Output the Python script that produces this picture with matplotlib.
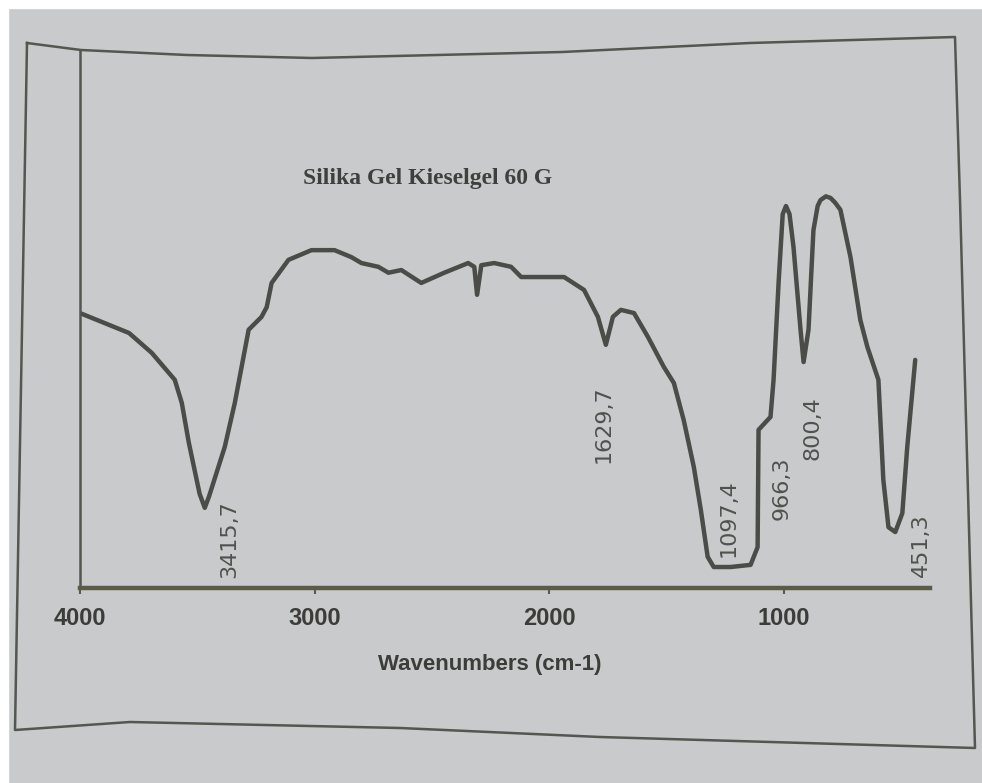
"""FTIR spectrum of silica gel (Kieselgel 60 G), redrawn from a photographed figure."""

import matplotlib

matplotlib.use('Agg')
import matplotlib.pyplot as plt
from matplotlib.lines import Line2D

# spectrum: wavenumber (cm-1) and transmittance (arbitrary %)
wavenumber = [
    4000, 3791, 3694, 3596, 3566, 3536, 3490, 3468, 3450, 3383, 3340, 3281,
    3226, 3204, 3183, 3111, 3013, 2915, 2843, 2800, 2728, 2685,
    2630, 2545, 2447, 2345, 2319, 2307, 2289, 2234, 2162, 2119,
    2021, 1936, 1851, 1792, 1758, 1728, 1694, 1638, 1579, 1511,
    1468, 1426, 1383, 1353, 1324, 1298, 1226, 1141, 1111, 1107,
    1056, 1043, 1021, 1004, 990, 975, 958, 928, 915, 894, 873,
    855, 843, 820, 800, 780, 758, 715, 673, 643, 596, 575, 553, 524,
    494, 473, 439,
]
transmittance = [
    51.1, 47.4, 43.7, 38.7, 34.4, 27.0, 17.5, 14.9, 17.0, 26.2, 34.4, 48.0,
    50.4, 52.2, 56.7, 61.0, 62.8, 62.8, 61.5, 60.4, 59.7, 58.6,
    59.1, 56.7, 58.6, 60.4, 59.7, 54.5, 60.0, 60.4, 59.7, 57.8,
    57.8, 57.8, 55.4, 50.4, 45.2, 50.4, 51.7, 51.1, 46.7, 41.1,
    38.1, 31.2, 22.5, 14.5, 5.8, 3.9, 3.9, 4.3, 7.6, 29.4,
    31.8, 38.7, 57.2, 69.5, 71.0, 69.5, 63.4, 48.0, 42.0, 48.0, 66.5,
    71.0, 72.1, 72.8, 72.5, 71.6, 70.3, 61.5, 49.8, 44.8, 38.7, 20.1, 11.3, 10.4,
    13.9, 26.2, 42.4,
]

# peak annotations as printed next to the trace
peak_labels = ['3415,7', '1629,7', '1097,4', '966,3', '800,4', '451,3']
label_x = [3362, 1766, 1234, 1009, 877, 413]
label_y = [1.9, 23.2, 5.8, 12.6, 23.8, 2.0]

x_ticks = [4000, 3000, 2000, 1000]

BG = '#c8cacb'
INK = '#4b4c48'

fig = plt.figure(figsize=(9.82, 7.83), dpi=100, facecolor=BG)

# white strips and the paper frame of the photographed page
fig.patches.append(plt.Rectangle((0, 1 - 8 / 783), 1, 8 / 783, transform=fig.transFigure,
                                 color='white', zorder=0))
fig.patches.append(plt.Rectangle((0, 0), 8 / 982, 1, transform=fig.transFigure,
                                 color='white', zorder=0))
frame_px = [(27, 43), (81, 50), (187, 55), (312, 58), (562, 52), (750, 43), (955, 37),
            (960, 200), (975, 748), (600, 737), (400, 728), (130, 722), (15, 730), (27, 43)]
fig.lines.append(Line2D([p[0] / 982 for p in frame_px], [1 - p[1] / 783 for p in frame_px],
                        transform=fig.transFigure, color='#55564f', lw=1.8, zorder=1))

ax = fig.add_axes([80 / 982, (783 - 588) / 783, 850 / 982, 538 / 783])
ax.set_facecolor('none')

ax.plot(wavenumber, transmittance, color=INK, lw=3.2, solid_joinstyle='round',
        solid_capstyle='round')

ax.set_xlim(4000, 376)
ax.set_ylim(0, 100)

for text, x, y in zip(peak_labels, label_x, label_y):
    ax.text(x, y, text, rotation=90, ha='center', va='bottom', fontsize=16,
            color='#50524e', family='DejaVu Sans')

ax.text(0.409, 0.762, 'Silika Gel Kieselgel 60 G', transform=ax.transAxes,
        ha='center', va='center', fontsize=17, color='#3f403d',
        family='Liberation Serif', fontweight='bold')

for side in ('top', 'right'):
    ax.spines[side].set_visible(False)
ax.spines['left'].set_color('#55564f')
ax.spines['left'].set_linewidth(1.8)
ax.spines['bottom'].set_color('#5c5b48')
ax.spines['bottom'].set_linewidth(3.2)

ax.set_yticks([])
ax.set_xticks(x_ticks)
ax.set_xticklabels([str(t) for t in x_ticks])
ax.tick_params(axis='x', direction='out', length=4, width=1.5, color='#5c5b48', pad=10)
for lab in ax.get_xticklabels():
    lab.set_family(['Liberation Sans Narrow', 'Liberation Sans'])
    lab.set_fontweight('bold')
    lab.set_fontsize(17)
    lab.set_color('#3c3d39')

ax.set_xlabel('Wavenumbers (cm-1)', fontsize=16, fontweight='bold', color='#3c3d39',
              family=['Liberation Sans Narrow', 'Liberation Sans'])
ax.xaxis.set_label_coords(0.482, -0.122)

fig.savefig('out.png', dpi=100, facecolor=BG)
